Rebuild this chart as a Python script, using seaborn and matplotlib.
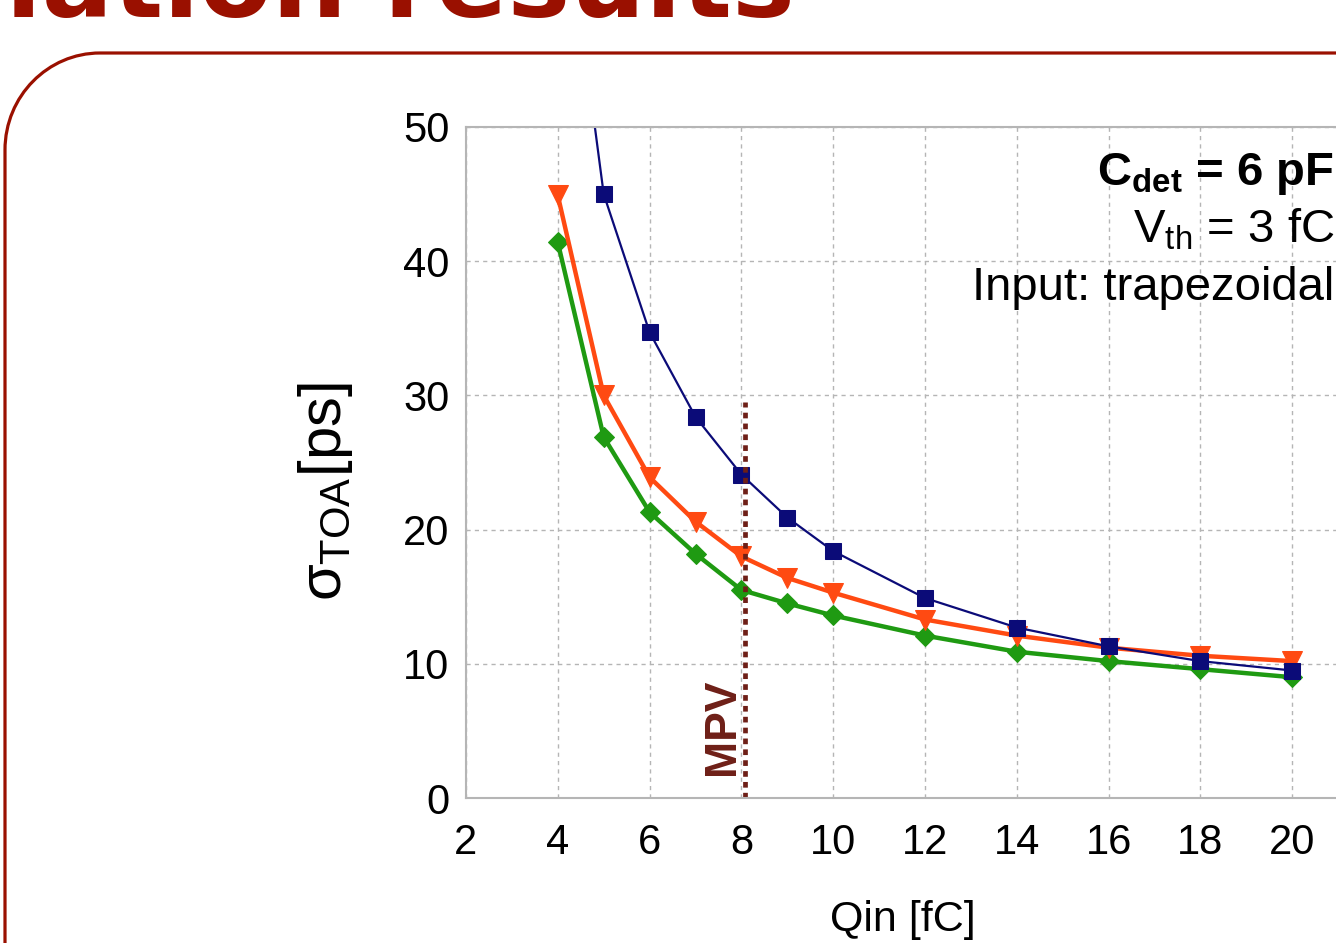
import numpy as np
import pandas as pd
import matplotlib
matplotlib.use("Agg")
import matplotlib.pyplot as plt
import seaborn as sns
from matplotlib.path import Path
from matplotlib.patches import PathPatch
from matplotlib.ticker import MultipleLocator

# charge points [fC] and time resolution [ps]
qin = [4, 5, 6, 7, 8, 9, 10, 12, 14, 16, 18, 20]
sigma_square = [71.0, 45.0, 34.7, 28.4, 24.1, 20.9, 18.4, 14.9, 12.7, 11.3, 10.2, 9.5]
sigma_triangle = [44.9, 30.0, 23.9, 20.6, 18.0, 16.4, 15.3, 13.3, 12.1, 11.2, 10.6, 10.2]
sigma_diamond = [41.4, 26.9, 21.3, 18.2, 15.5, 14.5, 13.6, 12.1, 10.9, 10.2, 9.6, 9.0]
x_ticks = [2, 4, 6, 8, 10, 12, 14, 16, 18, 20]

mpv_q = 8.08
mpv_top = 29.5

df = pd.DataFrame({"Qin": qin, "square": sigma_square,
                   "triangle": sigma_triangle, "diamond": sigma_diamond})

sns.set_style("white")
plt.rcParams["font.family"] = ["Liberation Sans", "DejaVu Sans"]
plt.rcParams["text.color"] = "black"
plt.rcParams["axes.labelcolor"] = "black"
plt.rcParams["mathtext.fontset"] = "custom"
plt.rcParams["mathtext.rm"] = "Liberation Sans"
plt.rcParams["mathtext.it"] = "Liberation Sans"
plt.rcParams["mathtext.bf"] = "Liberation Sans:bold"

fig = plt.figure(figsize=(13.36, 9.43), dpi=100)

# slide decoration: frame with rounded corner + cut-off title
bg = fig.add_axes([0, 0, 1, 1])
bg.set_xlim(0, 1336)
bg.set_ylim(943, 0)
bg.axis("off")
frame = Path([(5, 960), (5, 150), (5, 96), (48, 53), (100, 53), (1345, 53)],
             [Path.MOVETO, Path.LINETO, Path.CURVE4, Path.CURVE4, Path.CURVE4, Path.LINETO])
bg.add_patch(PathPatch(frame, fill=False, edgecolor="#9a1000", lw=2.3))
fig.text(795 / 1336, 1 - 17 / 943, "Simulation results", ha="right", va="baseline",
         fontsize=76, fontweight="bold", color="#9a1000", family="DejaVu Sans")

ax = fig.add_axes([466 / 1336, 1 - 798 / 943, 918 / 1336, 671 / 943])
grid_kw = dict(color="#b5b5b5", lw=1, ls=(0, (3, 3)))
ax.grid(True, which="major", **grid_kw)
ax.set_axisbelow(True)

sns.lineplot(data=df, x="Qin", y="diamond", ax=ax, color="#1f9a12", lw=3.2,
             marker="D", markersize=10, markeredgecolor="#1f9a12")
sns.lineplot(data=df, x="Qin", y="triangle", ax=ax, color="#ff4a12", lw=3.2,
             marker="v", markersize=14, markeredgecolor="#ff4a12")
sns.lineplot(data=df, x="Qin", y="square", ax=ax, color="#0b0b78", lw=1.6,
             marker="s", markersize=12, markeredgecolor="#0b0b78")

ax.vlines(mpv_q, 0, mpv_top, colors="#6e1f17", lw=3.4, linestyles=(0, (1.2, 1.1)))
ax.text(mpv_q - 0.5, 1.7, "MPV", rotation=90, ha="center", va="bottom",
        fontsize=32, fontweight="bold", color="#6e1f17")

ax.set_xlim(2, 22)
ax.set_ylim(0, 50)
ax.set_xticks(x_ticks)
ax.xaxis.set_minor_locator(MultipleLocator(0.4))
ax.yaxis.set_major_locator(MultipleLocator(10))
ax.yaxis.set_minor_locator(MultipleLocator(2))
ax.tick_params(which="major", direction="out", length=10, width=1.3, color="#b5b5b5",
               labelsize=30, labelcolor="black")
ax.tick_params(axis="x", which="major", pad=8)
ax.tick_params(axis="y", which="major", pad=2)
ax.tick_params(which="minor", direction="out", length=6, width=1.3, color="#b5b5b5")
for s in ax.spines.values():
    s.set_color("#b5b5b5")
    s.set_linewidth(1.5)

ax.set_xlabel("Qin [fC]", fontsize=31)
ax.set_ylabel(r"$\sigma_{\mathrm{TOA}}$[ps]", fontsize=43)
ax.xaxis.set_label_coords((903 - 466) / 918, -(900 - 798) / 671)
ax.yaxis.set_label_coords(-(466 - 355) / 918, (798 - 492) / 671)

ax.text(1334 / 1336, 1 - 185 / 943, r"$\mathbf{C_{det}}$ = 6 pF", transform=fig.transFigure,
        ha="right", va="baseline", fontsize=34, fontweight="bold")
ax.text(1334 / 1336, 1 - 242 / 943, r"V$_{\mathrm{th}}$ = 3 fC", transform=fig.transFigure,
        ha="right", va="baseline", fontsize=34)
ax.text(1334 / 1336, 1 - 300 / 943, "Input: trapezoidal", transform=fig.transFigure,
        ha="right", va="baseline", fontsize=34)

fig.savefig("out.png", dpi=100)
